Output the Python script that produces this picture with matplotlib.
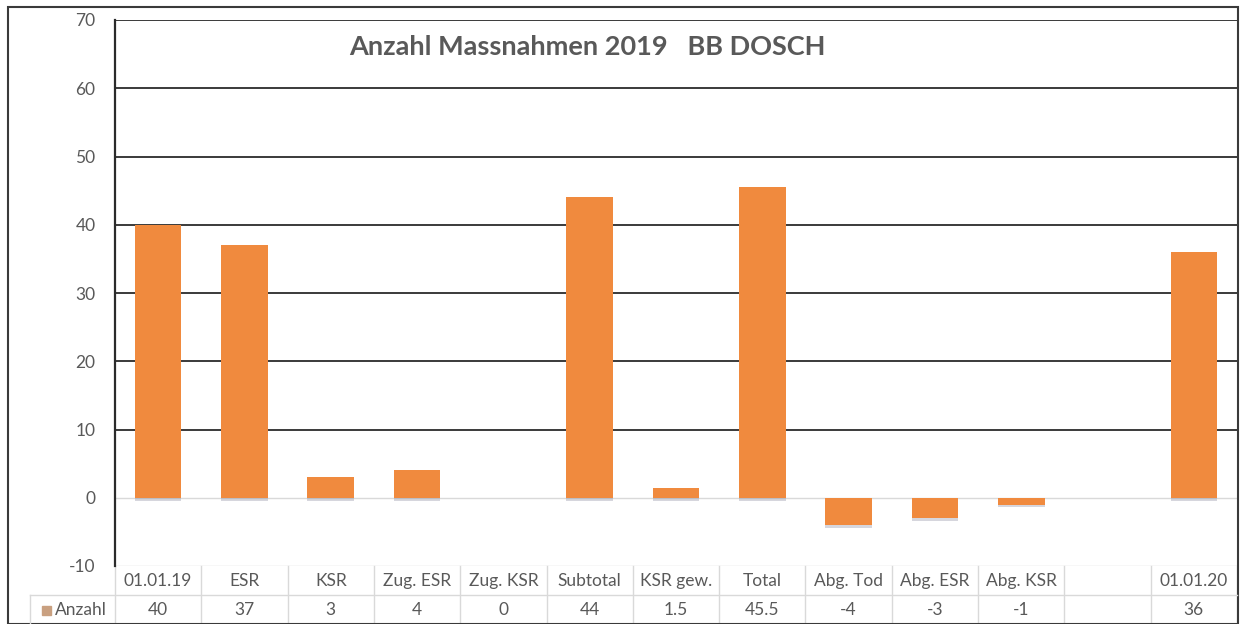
import numpy as np
import matplotlib
matplotlib.use("Agg")
import matplotlib.pyplot as plt
import matplotlib.patheffects as pe
from matplotlib.patches import Rectangle
from matplotlib.lines import Line2D

categories = ["01.01.19", "ESR", "KSR", "Zug. ESR", "Zug. KSR", "Subtotal",
              "KSR gew.", "Total", "Abg. Tod", "Abg. ESR", "Abg. KSR", "", "01.01.20"]
values = [40, 37, 3, 4, 0, 44, 1.5, 45.5, -4, -3, -1, np.nan, 36]
series_name = "Anzahl"
title = "Anzahl Massnahmen 2019   BB DOSCH"
yticks = [-10, 0, 10, 20, 30, 40, 50, 60, 70]

plt.rcParams['font.family'] = ['Lato', 'DejaVu Sans']
plt.rcParams['axes.unicode_minus'] = False

W, H = 1240, 624
fig = plt.figure(figsize=(W / 100, H / 100), dpi=100)

def fx(px):
    return px / W

def fy(py):
    return 1 - py / H

left_px, right_px, top_px, bottom_px = 115, 1237, 20, 566
ax = fig.add_axes([fx(left_px), fy(bottom_px), fx(right_px - left_px), (bottom_px - top_px) / H])

bar_color = "#F08A3E"
x = np.arange(len(categories))
bars = ax.bar(x, values, width=0.54, color=bar_color, zorder=3)
for b in bars:
    b.set_path_effects([pe.SimplePatchShadow(offset=(0, -2), shadow_rgbFace="#7a7a90", alpha=0.3), pe.Normal()])

ax.set_xlim(-0.5, len(categories) - 0.5)
ax.set_ylim(-10, 70)
ax.set_yticks(yticks)
ax.set_xticks([])
for t in yticks:
    if t <= 0:
        ax.axhline(t, color="#d9d9d9", lw=1.0, zorder=1)
    else:
        ax.axhline(t, color="#2b2b2b", lw=1.3, zorder=1)

for s in ["top", "right", "bottom"]:
    ax.spines[s].set_visible(False)
ax.spines["left"].set_color("#2b2b2b")
ax.spines["left"].set_linewidth(1.6)
ax.tick_params(axis="y", length=0, pad=14, labelsize=12.5, labelcolor="#595959")

# data table
tr = ax.get_xaxis_transform()
span = bottom_px - top_px
bottom_y = -(624 - bottom_px) / span
header_y = -(581 - bottom_px) / span
val_y = -(610 - bottom_px) / span
grid_c = "#d9d9d9"
for i, (c, v) in enumerate(zip(categories, values)):
    ax.text(i, header_y, c, transform=tr, ha="center", va="center", fontsize=12.5, color="#595959", clip_on=False)
    txt = "" if np.isnan(v) else f"{v:g}"
    ax.text(i, val_y, txt, transform=tr, ha="center", va="center", fontsize=12.5, color="#595959", clip_on=False)
    ax.add_line(Line2D([i + 0.5, i + 0.5], [0, bottom_y], transform=tr, color=grid_c, lw=1, clip_on=False))
ax.add_line(Line2D([-0.5, -0.5], [0, bottom_y], transform=tr, color=grid_c, lw=1, clip_on=False))
fig.add_artist(Line2D([fx(30), fx(right_px)], [fy(595), fy(595)], color=grid_c, lw=1))
fig.add_artist(Line2D([fx(30), fx(30)], [fy(595), fy(624)], color=grid_c, lw=1))
fig.add_artist(Rectangle((fx(42), fy(615)), fx(9), 9 / H, color="#c9a080"))
fig.text(fx(55), fy(610), series_name, ha="left", va="center", fontsize=12.5, color="#595959")

# title
fig.text(fx(587), fy(47), title, ha="center", va="center", fontsize=19.5, fontweight="bold", color="#595959")

# outer border
fig.add_artist(Rectangle((fx(8), 0), fx(1238 - 8), fy(7), fill=False, edgecolor="#3a3a3a", lw=1.5))

fig.savefig("out.png", dpi=100)
